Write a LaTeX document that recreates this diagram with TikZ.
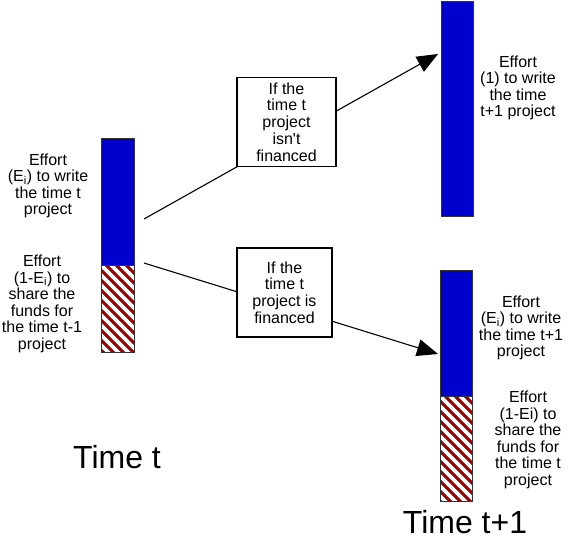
\documentclass[tikz,border=0pt]{standalone}
\usepackage{fontspec}
\setmainfont{Liberation Sans}
\usetikzlibrary{arrows.meta}
\definecolor{barblue}{RGB}{0,0,204}
\definecolor{barred}{RGB}{153,0,0}
\tikzset{
  lbl/.style={align=center, font=\fontsize{16}{16.5}\selectfont, inner sep=0pt},
  cbox/.style={draw=black, fill=white, line width=1.3pt, minimum height=89pt, align=center, font=\fontsize{16}{16.8}\selectfont, inner sep=0pt},
  big/.style={font=\fontsize{32}{36}\selectfont, inner sep=0pt},
  conn/.style={line width=1.1pt, -{Triangle[length=21pt,width=17pt]}},
  outl/.style={draw=black!80, line width=0.8pt}
}
\newcommand{\hatchbar}[4]{%
  \begin{scope}
    \clip (#1,#2) rectangle (#3,#4);
    \fill[barred] (#1,#2) rectangle (#3,#4);
    \foreach \k in {-140,-130,...,40}{
      \draw[white, line width=3.6pt] ({#1+\k},#2) -- ++(140,140);
    }
  \end{scope}
  \draw[outl] (#1,#2) rectangle (#3,#4);
}
\begin{document}
\begin{tikzpicture}[x=1pt,y=-1pt]
\useasboundingbox (0,0) rectangle (572,545);
% left bar
\fill[barblue] (101,138) rectangle (134,265);
\draw[outl] (101,138) rectangle (134,265);
\hatchbar{101}{265}{134}{352}
% top right bar
\fill[barblue] (441,1) rectangle (473,216);
\draw[outl] (441,1) rectangle (473,216);
% bottom right bar
\fill[barblue] (440,270) rectangle (472,396);
\draw[outl] (440,270) rectangle (472,396);
\hatchbar{440}{396}{472}{501}

\coordinate (s1) at (144,219);
\coordinate (e1) at (438,54);
\coordinate (s2) at (144,263);
\coordinate (e2) at (438,354);
\draw[conn] (s1) -- (e1);
\draw[conn] (s2) -- (e2);

\node[cbox, minimum width=99pt] (b1) at (286.5,122) {If the\\time t\\project\\isn\textquotesingle t\\financed};
\node[cbox, minimum width=95pt] (b2) at (284.5,292.5) {If the\\time t\\project is\\financed};

\node[lbl] (t1) at (48,186) {Effort\\(E\textsubscript{i}) to write\\the time t\\project};
\node[lbl] (t2) at (42,304) {Effort\\(1-E\textsubscript{i}) to\\share the\\funds for\\the time t-1\\project};
\node[lbl] (t3) at (518,88) {Effort\\(1) to write\\the time\\t+1 project};
\node[lbl] (t4) at (521,328) {Effort\\(E\textsubscript{i}) to write\\the time t+1\\project};
\node[lbl] (t5) at (528,440) {Effort\\(1-Ei) to\\share the\\funds for\\the time t\\project};

\node[big] (tt) at (117,457) {Time t};
\node[big] (tt1) at (465,522) {Time t+1};
\end{tikzpicture}
\end{document}
